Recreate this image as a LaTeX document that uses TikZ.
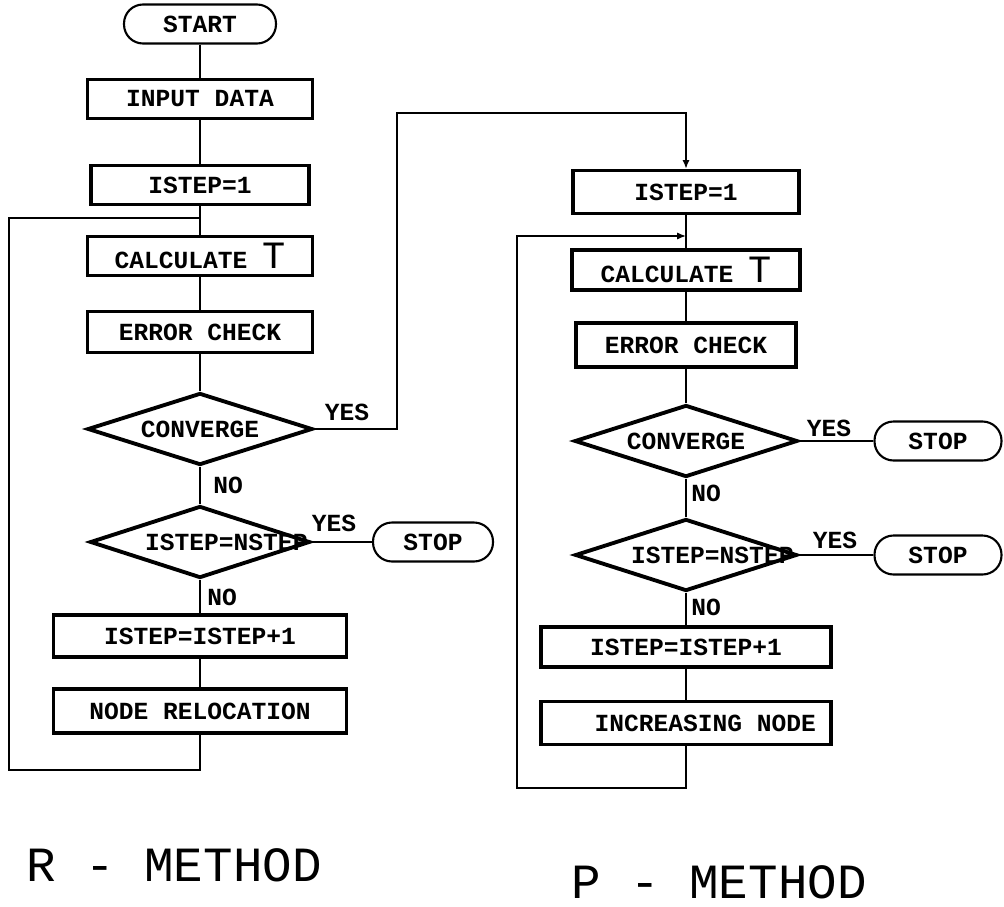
\documentclass[tikz,border=0pt]{standalone}
\usepackage{fontspec}
\usepackage{tikz}
\usetikzlibrary{shapes.geometric}
\usetikzlibrary{arrows.meta}
\newfontfamily\plotfont{Liberation Mono}
\newcommand{\boxfont}{\plotfont\bfseries\fontsize{14}{16}\selectfont}
\newcommand{\titlefont}{\plotfont\fontsize{28}{30}\selectfont}
\newcommand{\bigT}{\plotfont\mdseries\fontsize{22}{22}\selectfont T}
\newcommand{\inside}[2][0pt]{\makebox[0pt]{\hspace*{#1}#2}}
\tikzstyle{Box}=[rectangle,draw,line width=1.8pt,inner sep=0pt,
font=\boxfont,minimum width=4.5cm,minimum height=0.78cm]
\tikzstyle{WideBox}=[Box,minimum width=5.85cm,minimum height=0.84cm]
\tikzstyle{Test}=[diamond,draw,line width=2.2pt,inner sep=0pt,
font=\boxfont,minimum width=4.5cm,minimum height=1.44cm]
\tikzstyle{Term}=[rectangle,rounded corners=0.38cm,draw,line width=1.2pt,
inner sep=0pt,font=\boxfont,minimum height=0.78cm]
\tikzstyle{Edge}=[draw,line width=1.2pt]
\tikzstyle{EdgeP}=[draw,line width=0.8pt]
\tikzstyle{Tip}=[-{Latex[length=5pt,width=4pt]}]
\tikzstyle{Label}=[font=\boxfont,inner sep=0pt]
\tikzstyle{Title}=[font=\titlefont,inner sep=0pt]

\begin{document}
\begin{tikzpicture}[x=0.02cm,y=-0.02cm]
    \useasboundingbox (0,0) rectangle (1004,906);
        % R - method
        \node[Term,minimum width=3.04cm](ls)at(200,24){START};
        \node[Box](li)at(200,99){INPUT DATA};
        \node[Box,minimum width=4.36cm](l1)at(200,185){ISTEP=1};
        \node[Box](lc)at(200,256){CALCULATE \bigT};
        \node[Box,minimum height=0.82cm](le)at(200,332){ERROR CHECK};
        \node[Test](lv)at(200,429){\inside{CONVERGE}};
        \node[Test,minimum width=4.4cm](ln)at(200,542)
            {\inside[30pt]{ISTEP=NSTEP}};
        \node[Term,minimum width=2.4cm](lt)at(433,542){STOP};
        \node[WideBox](lp)at(200,636){ISTEP=ISTEP+1};
        \node[WideBox,minimum height=0.88cm](lr)at(200,711){NODE RELOCATION};
        \coordinate(lj)at(200,218);
        \coordinate(lb)at(9,770);
        \coordinate(lk)at(397,113);
        \node[Label](ly1)at(347,412){YES};
        \node[Label](ly2)at(334,523){YES};
        \node[Label,anchor=west](ln1)at(213,485){NO};
        \node[Label,anchor=west](ln2)at(207,597){NO};
        \node[Title](lm)at(174,865){R - METHOD};
        \draw[Edge](ls)--(li);
        \draw[Edge](li)--(l1);
        \draw[Edge](l1)--(lc);
        \draw[Edge](lc)--(le);
        \draw[Edge](le.south)--(lv.north);
        \draw[Edge](lv.south)--(ln.north);
        \draw[Edge](ln.east)--(lt.west);
        \draw[Edge](ln.south)--(lp.north);
        \draw[Edge](lp)--(lr);
        \draw[Edge](lr.south)|-(lb)|-(lj);
        % P - method
        \node[Box,minimum width=4.52cm,minimum height=0.86cm](r1)at(686,192){ISTEP=1};
        \node[Box,minimum width=4.56cm,minimum height=0.8cm](rc)at(686,270){CALCULATE \bigT};
        \node[Box,minimum width=4.4cm,minimum height=0.88cm](re)at(686,345){ERROR CHECK};
        \node[Test,minimum width=4.46cm](rv)at(686,441){\inside{CONVERGE}};
        \node[Test,minimum width=4.44cm](rn)at(686,555)
            {\inside[30pt]{ISTEP=NSTEP}};
        \node[Term,minimum width=2.54cm](rt1)at(938,441){STOP};
        \node[Term,minimum width=2.54cm](rt2)at(938,555){STOP};
        \node[WideBox,minimum width=5.8cm,minimum height=0.8cm](rp)at(686,647){ISTEP=ISTEP+1};
        \node[WideBox,minimum width=5.8cm,minimum height=0.86cm](rd)at(686,723)
            {\hspace*{22pt}INCREASING NODE};
        \coordinate(rj)at(686,236);
        \coordinate(rb)at(517,788);
        \node[Label](ry1)at(829,428){YES};
        \node[Label](ry2)at(835,540){YES};
        \node[Label,anchor=west](rn1)at(691,493){NO};
        \node[Label,anchor=west](rn2)at(691,607){NO};
        \node[Title](rm)at(719,882){P - METHOD};
        \draw[EdgeP](r1)--(rc);
        \draw[EdgeP](rc)--(re);
        \draw[EdgeP](re.south)--(rv.north);
        \draw[EdgeP](rv.south)--(rn.north);
        \draw[EdgeP](rv.east)--(rt1.west);
        \draw[EdgeP](rn.east)--(rt2.west);
        \draw[EdgeP](rn.south)--(rp.north);
        \draw[EdgeP](rp)--(rd);
        \draw[EdgeP,Tip](rd.south)|-(rb)|-(rj);
        % YES of R - method into P - method
        \draw[Edge,Tip](lv.east)-|(lk)-|(r1.north);
    \end{tikzpicture}
\end{document}
